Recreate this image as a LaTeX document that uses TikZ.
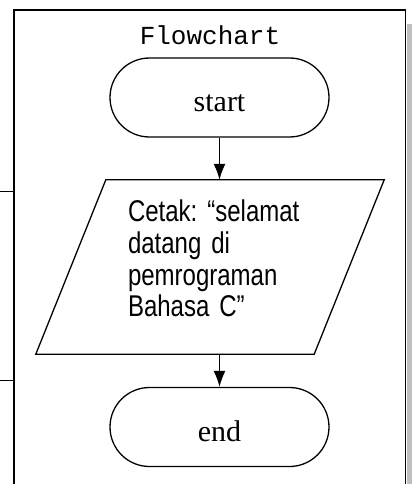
\documentclass[tikz,border=0pt]{standalone}
\usepackage{fontspec}
\newfontfamily\serifface{Liberation Serif}
\newfontfamily\sansface[FakeStretch=0.8]{Liberation Sans}
\newfontfamily\monoface{Liberation Mono}
\usetikzlibrary{positioning,arrows.meta,shapes.misc,calc}

\tikzset{
	terminal/.style={draw,line width=1.3pt,rounded rectangle,minimum width=219pt,minimum height=79pt,
		inner sep=0pt,font=\serifface\fontsize{30}{30}\selectfont,text height=29pt,text depth=0pt},
	io/.style={minimum width=278pt,minimum height=174pt,inner sep=0pt,
		text width=164pt,align=left,font=\sansface\fontsize{30}{31.7}\selectfont,text depth=112.5pt,
		execute at begin node={\hyphenpenalty=10000\exhyphenpenalty=10000\hbadness=10000\hfuzz=20pt}},
	io line/.style={line width=1.3pt,line join=miter}
}

\begin{document}
\begin{tikzpicture}[x=1pt,y=-1pt,>={Latex[length=16pt,width=12pt]}]
	\useasboundingbox (0,0) rectangle (415,484);
	\clip (0,0) rectangle (415,484);
	% frame of the table cell
	\fill[black!25] (406.5,24) rectangle (412,500);
	\draw[line width=1.6pt,fill=white] (14,10) rectangle (405.5,500);
	\foreach \y in {191.7,380.7}
		\draw[line width=1pt] (0,\y)-- (14,\y);
	\node[font=\monoface\fontsize{26}{26}\selectfont,anchor=base] (judul) at (210,45) {Flowchart};

\node[terminal] (start) at (219.5,97.5) {start};
\node[io] (cetak) at (210,267) {Cetak:~“selamat\\datang di\\pemrograman\\Bahasa C”};
\node[terminal] (finish) at (219.5,427) {end};
% parallelogram round the output node
\draw[io line] ($(cetak.north west)+(35,0)$) -- ($(cetak.north east)+(35,0)$)
	-- ($(cetak.south east)+(-35,0)$) -- ($(cetak.south west)+(-35,0)$) -- cycle;
\draw [line width=1.3pt,->] (start.south) -- (start.south |- cetak.north);
\draw [line width=1.3pt,->] (finish.north |- cetak.south) -- (finish.north);
\end{tikzpicture}
\end{document}
